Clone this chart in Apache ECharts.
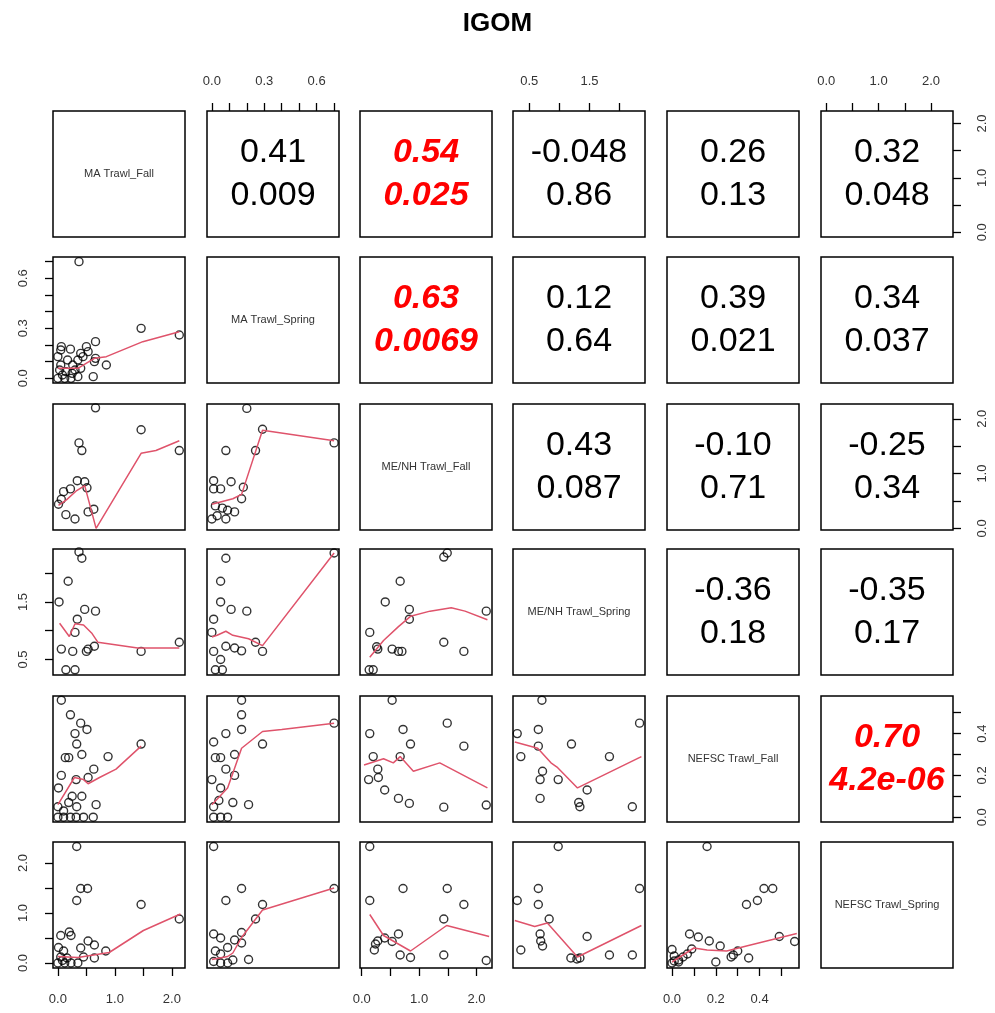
<!DOCTYPE html>
<html>
<head>
<meta charset="utf-8">
<script src="https://cdn.jsdelivr.net/npm/echarts@6/dist/echarts.min.js"></script>
<style>
html, body { margin: 0; background: #fff; }
#main { width: 995px; height: 1013px; }
</style>
</head>
<body>
<div id="main"></div>
<script>
// variables of the pairs plot
const varNames = ["MA Trawl_Fall", "MA Trawl_Spring", "ME/NH Trawl_Fall", "ME/NH Trawl_Spring", "NEFSC Trawl_Fall", "NEFSC Trawl_Spring"];
const axisMin = [-0.086, -0.028, -0.03, 0.23, -0.023, -0.1];
const axisMax = [2.23, 0.728, 2.27, 2.42, 0.58, 2.42];
const tickVals = [
  [0, 0.5, 1, 1.5, 2],
  [0, 0.1, 0.2, 0.3, 0.4, 0.5, 0.6, 0.7],
  [0, 0.5, 1, 1.5, 2],
  [0.5, 1, 1.5, 2],
  [0, 0.1, 0.2, 0.3, 0.4, 0.5],
  [0, 0.5, 1, 1.5, 2]
];
const labelVals = [[0, 1, 2], [0, 0.3, 0.6], [0, 1, 2], [0.5, 1.5], [0, 0.2, 0.4], [0, 1, 2]];

// upper panels: correlation and p-value
const corrCells = [[0,1],[0,2],[0,3],[0,4],[0,5],[1,2],[1,3],[1,4],[1,5],[2,3],[2,4],[2,5],[3,4],[3,5],[4,5]];
const corrR = ["0.41", "0.54", "-0.048", "0.26", "0.32", "0.63", "0.12", "0.39", "0.34", "0.43", "-0.10", "-0.25", "-0.36", "-0.35", "0.70"];
const corrP = ["0.009", "0.025", "0.86", "0.13", "0.048", "0.0069", "0.64", "0.021", "0.037", "0.087", "0.71", "0.34", "0.18", "0.17", "4.2e-06"];
const corrSig = [false, true, false, false, false, true, false, false, false, false, false, false, false, false, true];

// lower panels: points (x = column variable, y = row variable) and smoother
const pts_1_0 = [[0.37,0.70],[1.46,0.30],[2.13,0.26],[0.66,0.22],[0.50,0.19],[0.06,0.19],[0.22,0.175],[0.40,0.15],[0.53,0.16],[0.66,0.12],[0.85,0.08],[0.64,0.10],[0.62,0.01],[0.0,0.13],[0.05,0.08],[0.17,0.11],[0.26,0.08],[0.35,0.11],[0.03,0.05],[0.14,0.04],[0.25,0.03],[0.40,0.06],[0.0,0.0],[0.12,0.0],[0.23,0.0],[0.35,0.01],[0.44,0.13],[0.05,0.17],[0.08,0.02],[0.30,0.05]];
const lo_1_0 = [[0,0.06],[0.35,0.06],[0.64,0.12],[0.85,0.13],[1.49,0.22],[2.13,0.28]];
const pts_2_0 = [[0.66,2.2],[1.46,1.8],[2.13,1.42],[0.37,1.56],[0.42,1.42],[0.34,0.87],[0.47,0.85],[0.51,0.74],[0.22,0.72],[0.10,0.67],[0.06,0.53],[0.01,0.44],[0.14,0.25],[0.30,0.17],[0.63,0.35],[0.53,0.30]];
const lo_2_0 = [[0.01,0.42],[0.15,0.52],[0.33,0.69],[0.47,0.78],[0.67,0.0],[1.46,1.37],[1.72,1.42],[2.13,1.6]];
const pts_2_1 = [[0.20,2.19],[0.29,1.81],[0.70,1.56],[0.25,1.42],[0.08,1.42],[0.01,0.87],[0.11,0.85],[0.18,0.75],[0.01,0.72],[0.05,0.72],[0.17,0.54],[0.02,0.41],[0.06,0.37],[0.09,0.33],[0.13,0.30],[0.0,0.17],[0.03,0.23],[0.08,0.17]];
const lo_2_1 = [[0.0,0.44],[0.12,0.54],[0.17,0.62],[0.29,1.79],[0.70,1.6]];
const pts_3_0 = [[0.37,2.37],[0.42,2.26],[0.18,1.86],[0.02,1.5],[0.47,1.37],[0.66,1.34],[0.34,1.2],[0.30,0.97],[0.06,0.68],[0.26,0.64],[0.50,0.64],[0.53,0.68],[0.64,0.73],[1.46,0.64],[2.13,0.8],[0.14,0.32],[0.30,0.32]];
const lo_3_0 = [[0.03,1.13],[0.2,0.9],[0.3,1.12],[0.45,1.1],[0.6,0.95],[0.7,0.8],[1.4,0.7],[2.13,0.7]];
const pts_3_1 = [[0.08,2.26],[0.05,1.86],[0.05,1.5],[0.11,1.37],[0.20,1.34],[0.01,1.2],[0.0,0.97],[0.70,2.35],[0.25,0.8],[0.29,0.64],[0.01,0.64],[0.08,0.73],[0.13,0.7],[0.17,0.65],[0.05,0.5],[0.02,0.32],[0.06,0.32]];
const lo_3_1 = [[0.0,0.89],[0.03,0.92],[0.08,0.99],[0.12,0.92],[0.21,0.86],[0.29,0.74],[0.70,2.35]];
const pts_3_2 = [[1.43,2.28],[1.49,2.35],[0.67,1.86],[0.41,1.5],[0.83,1.37],[0.83,1.2],[2.17,1.34],[0.14,0.97],[0.28,0.68],[0.53,0.68],[0.64,0.64],[0.70,0.64],[1.43,0.8],[1.78,0.64],[0.13,0.32],[0.2,0.32],[0.26,0.72]];
const lo_3_2 = [[0.14,0.54],[0.38,0.83],[0.64,1.07],[0.85,1.25],[1.19,1.34],[1.56,1.4],[1.8,1.34],[2.19,1.19]];
const pts_4_0 = [[0.06,0.56],[0.22,0.49],[0.40,0.45],[0.51,0.42],[0.30,0.40],[0.33,0.35],[0.13,0.285],[0.19,0.285],[0.42,0.30],[0.88,0.29],[1.46,0.35],[0.63,0.23],[0.06,0.20],[0.32,0.18],[0.53,0.19],[0.01,0.14],[0.25,0.10],[0.42,0.10],[0.67,0.06],[0.19,0.07],[0.33,0.05],[0.0,0.0],[0.1,0.0],[0.22,0.0],[0.32,0.0],[0.45,0.0],[0.62,0.0],[0.0,0.05],[0.1,0.03]];
const lo_4_0 = [[0.0,0.06],[0.29,0.19],[0.45,0.18],[0.53,0.16],[0.73,0.19],[1.02,0.23],[1.46,0.34]];
const pts_4_1 = [[0.17,0.56],[0.17,0.49],[0.17,0.42],[0.08,0.40],[0.01,0.36],[0.02,0.285],[0.05,0.285],[0.13,0.30],[0.29,0.35],[0.70,0.45],[0.08,0.23],[0.13,0.20],[0.0,0.18],[0.05,0.14],[0.21,0.06],[0.12,0.07],[0.01,0.0],[0.05,0.0],[0.09,0.0],[0.01,0.05],[0.04,0.08]];
const lo_4_1 = [[0.0,0.06],[0.09,0.14],[0.12,0.21],[0.17,0.33],[0.29,0.41],[0.4,0.42],[0.70,0.45]];
const pts_4_2 = [[0.53,0.56],[0.14,0.40],[0.72,0.42],[1.49,0.45],[0.85,0.35],[1.78,0.34],[0.2,0.29],[0.67,0.29],[0.28,0.23],[0.12,0.18],[0.29,0.19],[0.4,0.13],[0.64,0.09],[0.83,0.066],[1.43,0.048],[2.17,0.058]];
const lo_4_2 = [[0.04,0.25],[0.38,0.28],[0.55,0.26],[0.67,0.29],[0.9,0.22],[1.36,0.26],[2.19,0.14]];
const pts_4_3 = [[0.71,0.56],[0.30,0.40],[0.65,0.42],[2.33,0.45],[0.65,0.34],[1.2,0.35],[0.36,0.29],[1.83,0.29],[0.72,0.22],[0.68,0.18],[0.98,0.18],[1.46,0.13],[0.68,0.09],[1.32,0.07],[1.34,0.05],[2.21,0.05]];
const lo_4_3 = [[0.26,0.36],[0.64,0.33],[0.86,0.26],[0.96,0.24],[1.3,0.14],[2.36,0.29]];
const pts_5_0 = [[0.33,2.33],[0.33,1.25],[0.40,1.49],[0.52,1.49],[1.46,1.17],[2.13,0.88],[0.05,0.55],[0.2,0.62],[0.23,0.55],[0.53,0.44],[0.64,0.36],[0.40,0.30],[0.84,0.24],[0.01,0.31],[0.10,0.24],[0.05,0.12],[0.16,0.10],[0.45,0.12],[0.64,0.10],[0.0,0.0],[0.12,0.0],[0.23,0.0],[0.35,0.0],[0.08,0.05]];
const lo_5_0 = [[0.0,0.13],[0.35,0.11],[0.9,0.21],[1.5,0.65],[2.15,0.98]];
const pts_5_1 = [[0.01,2.33],[0.08,1.25],[0.17,1.49],[0.70,1.49],[0.29,1.17],[0.25,0.88],[0.17,0.61],[0.01,0.58],[0.05,0.5],[0.13,0.46],[0.09,0.31],[0.17,0.40],[0.12,0.06],[0.21,0.07],[0.02,0.24],[0.01,0.03],[0.05,0.0],[0.09,0.0],[0.05,0.18]];
const lo_5_1 = [[0.0,0.07],[0.09,0.13],[0.12,0.2],[0.17,0.51],[0.29,1.06],[0.70,1.5]];
const pts_5_2 = [[0.14,2.33],[0.14,1.25],[0.72,1.49],[1.49,1.49],[1.78,1.17],[1.43,0.88],[0.64,0.58],[0.4,0.5],[0.28,0.44],[0.24,0.38],[0.22,0.26],[0.53,0.43],[0.67,0.16],[0.85,0.11],[1.43,0.16],[2.17,0.05]];
const lo_5_2 = [[0.14,0.97],[0.38,0.55],[0.85,0.24],[1.48,0.75],[2.22,0.53]];
const pts_5_3 = [[0.98,2.33],[0.3,1.25],[0.65,1.49],[0.65,1.17],[2.33,1.49],[0.83,0.88],[1.46,0.53],[0.68,0.58],[0.69,0.44],[0.72,0.34],[0.36,0.26],[1.19,0.10],[1.29,0.08],[1.34,0.10],[1.83,0.16],[2.21,0.16]];
const lo_5_3 = [[0.26,0.85],[0.59,0.73],[0.8,0.8],[1.3,0.12],[2.36,0.75]];
const pts_5_4 = [[0.16,2.33],[0.34,1.17],[0.39,1.25],[0.42,1.49],[0.46,1.49],[0.49,0.53],[0.56,0.43],[0.08,0.58],[0.12,0.52],[0.17,0.44],[0.22,0.34],[0.09,0.28],[0.2,0.02],[0.35,0.1],[0.27,0.12],[0.28,0.16],[0.3,0.24],[0.0,0.27],[0.01,0.14],[0.03,0.06],[0.05,0.12],[0.07,0.18],[0.0,0.0],[0.03,0.02],[0.01,0.04]];
const lo_5_4 = [[0.0,0.02],[0.1,0.3],[0.16,0.26],[0.25,0.24],[0.34,0.34],[0.57,0.59]];

const lowerPanels = [
  [1, 0, pts_1_0, lo_1_0], [2, 0, pts_2_0, lo_2_0], [2, 1, pts_2_1, lo_2_1],
  [3, 0, pts_3_0, lo_3_0], [3, 1, pts_3_1, lo_3_1], [3, 2, pts_3_2, lo_3_2],
  [4, 0, pts_4_0, lo_4_0], [4, 1, pts_4_1, lo_4_1], [4, 2, pts_4_2, lo_4_2], [4, 3, pts_4_3, lo_4_3],
  [5, 0, pts_5_0, lo_5_0], [5, 1, pts_5_1, lo_5_1], [5, 2, pts_5_2, lo_5_2], [5, 3, pts_5_3, lo_5_3], [5, 4, pts_5_4, lo_5_4]
];

// panel layout (px)
const colLeft = [53, 207, 360, 513, 667, 821];
const rowTop = [111, 257, 404, 549, 696, 842];
const panelW = 132;
const panelH = 126;
const font = "Liberation Sans";

let chart = echarts.init(document.getElementById("main"));

let grids = [], xAxes = [], yAxes = [], series = [], graphics = [];

function fmt(v) {
  return v.toFixed(1);
}

for (let r = 0; r < 6; r++) {
  for (let c = 0; c < 6; c++) {
    grids.push({
      left: colLeft[c], top: rowTop[r], width: panelW, height: panelH,
      show: true, borderColor: "#000", borderWidth: 1.5, backgroundColor: "#fff"
    });
    // R pairs(): top axes on odd columns, bottom on even columns
    let showTop = r === 0 && c % 2 === 1;
    let showBottom = r === 5 && c % 2 === 0;
    let showLeft = c === 0 && r % 2 === 1;
    let showRight = c === 5 && r % 2 === 0;
    xAxes.push({
      gridIndex: r * 6 + c, type: "value",
      min: axisMin[c], max: axisMax[c],
      position: showTop ? "top" : "bottom",
      axisLine: { show: false, onZero: false },
      splitLine: { show: false },
      axisTick: { show: showTop || showBottom, length: 8, lineStyle: { color: "#000", width: 1.3 }, customValues: tickVals[c] },
      axisLabel: { show: showTop || showBottom, margin: showTop ? 23 : 25, color: "#333", fontSize: 13, fontFamily: font, customValues: labelVals[c], formatter: fmt }
    });
    yAxes.push({
      gridIndex: r * 6 + c, type: "value",
      min: axisMin[r], max: axisMax[r],
      position: showRight ? "right" : "left",
      axisLine: { show: false, onZero: false },
      splitLine: { show: false },
      axisTick: { show: showLeft || showRight, length: 8, lineStyle: { color: "#000", width: 1.3 }, customValues: tickVals[r] },
      axisLabel: { show: showLeft || showRight, rotate: 90, margin: 23, color: "#333", fontSize: 13, fontFamily: font, customValues: labelVals[r], formatter: fmt }
    });
  }
}

// diagonal labels
for (let i = 0; i < 6; i++) {
  graphics.push({
    type: "text", x: colLeft[i] + panelW / 2, y: rowTop[i] + panelH / 2,
    style: { text: varNames[i], fontSize: 11, fontFamily: font, fill: "#333", align: "center", verticalAlign: "middle" }
  });
}

// correlation text in upper panels
corrCells.forEach(function (cell, k) {
  let cx = colLeft[cell[1]] + panelW / 2;
  let cy = rowTop[cell[0]] + panelH / 2;
  let st = {
    fontSize: 34, fontFamily: font, align: "center", verticalAlign: "middle",
    fill: corrSig[k] ? "#ff0000" : "#000",
    fontWeight: corrSig[k] ? "bold" : "normal",
    fontStyle: corrSig[k] ? "italic" : "normal"
  };
  graphics.push({ type: "text", x: cx, y: cy - 21, style: Object.assign({ text: corrR[k] }, st) });
  graphics.push({ type: "text", x: cx, y: cy + 22, style: Object.assign({ text: corrP[k] }, st) });
});

lowerPanels.forEach(function (p) {
  let idx = p[0] * 6 + p[1];
  series.push({
    type: "scatter", xAxisIndex: idx, yAxisIndex: idx, data: p[2],
    symbol: "circle", symbolSize: 8,
    itemStyle: { color: "rgba(0,0,0,0)", borderColor: "#000", borderWidth: 1.4 },
    silent: true
  });
  series.push({
    type: "line", xAxisIndex: idx, yAxisIndex: idx, data: p[3],
    showSymbol: false, smooth: false,
    lineStyle: { color: "#DF536B", width: 1.5 },
    silent: true
  });
});

chart.setOption({
  animation: false,
  title: {
    text: "IGOM", left: "center", top: 6,
    textStyle: { fontSize: 26, fontWeight: "bold", fontFamily: font, color: "#000" }
  },
  grid: grids,
  xAxis: xAxes,
  yAxis: yAxes,
  graphic: graphics,
  series: series
});
</script>
</body>
</html>
